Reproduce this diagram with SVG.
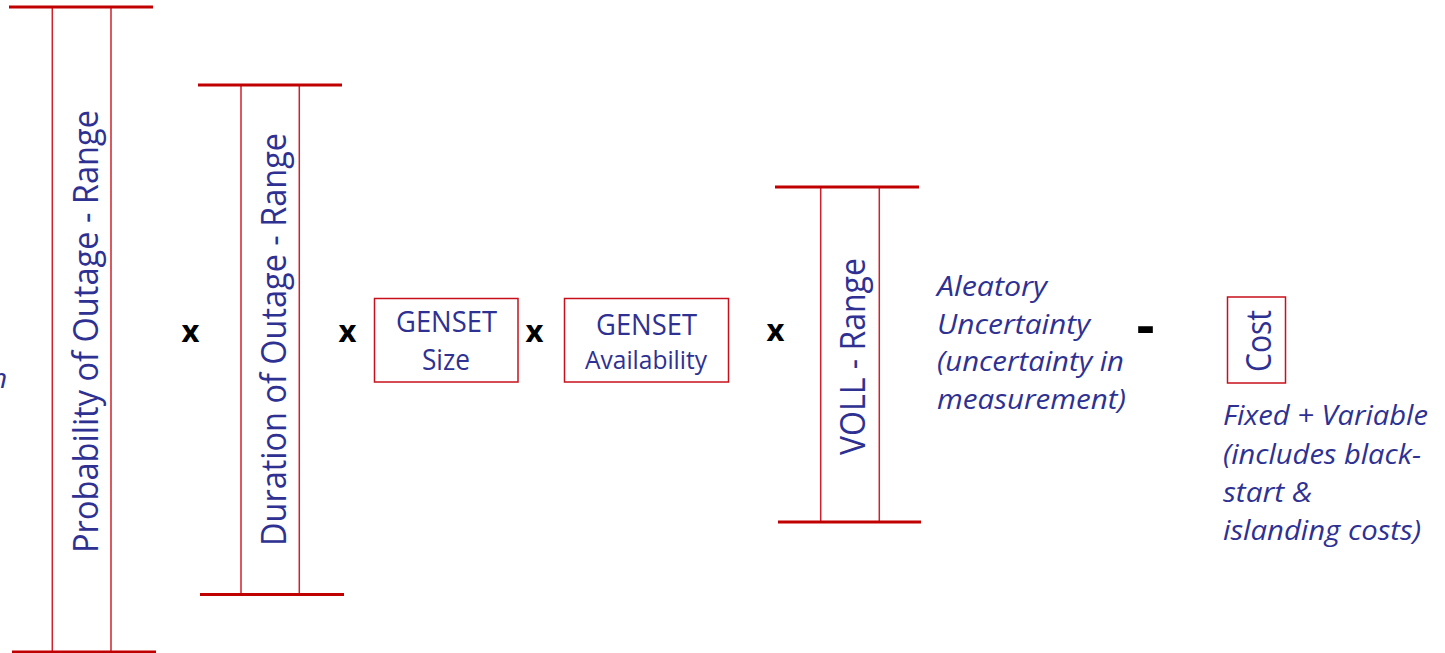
<svg xmlns="http://www.w3.org/2000/svg" width="1445" height="653" viewBox="0 0 1445 653">
  <style>
    .cap { stroke: #C00000; stroke-width: 3; fill: none; }
    .rail { stroke: #D0202A; stroke-width: 1.5; fill: none; }
    .box { stroke: #C8101C; stroke-width: 1.5; fill: #ffffff; }
    .lbl { font-family: "Open Sans", "Liberation Sans", sans-serif; fill: #2E3192; }
    .big { font-size: 35px; }
    .mid { font-size: 28.5px; }
    .note { font-family: "Open Sans", "Liberation Sans", sans-serif; font-style: italic; font-size: 28px; fill: #2E3192; }
    .op { font-family: "Open Sans", "Liberation Sans", sans-serif; font-weight: bold; fill: #000000; }
  </style>
  <rect width="1445" height="653" fill="#ffffff"/>

  <!-- range bar: probability of outage -->
  <g id="probability-range">
    <line class="rail" x1="52.3" y1="7" x2="52.3" y2="652"/>
    <line class="rail" x1="111" y1="7" x2="111" y2="652"/>
    <line class="cap" x1="9" y1="7" x2="153" y2="7"/>
    <line class="cap" x1="12" y1="652" x2="156" y2="652"/>
    <text class="lbl big" transform="translate(97.5,331.5) rotate(-90)" text-anchor="middle" textLength="443" lengthAdjust="spacingAndGlyphs">Probability of Outage - Range</text>
  </g>

  <!-- range bar: duration of outage -->
  <g id="duration-range">
    <line class="rail" x1="241" y1="85" x2="241" y2="594.5"/>
    <line class="rail" x1="299.3" y1="85" x2="299.3" y2="594.5"/>
    <line class="cap" x1="198" y1="85" x2="342" y2="85"/>
    <line class="cap" x1="200" y1="594.5" x2="344" y2="594.5"/>
    <text class="lbl big" transform="translate(286,339.5) rotate(-90)" text-anchor="middle" textLength="413" lengthAdjust="spacingAndGlyphs">Duration of Outage - Range</text>
  </g>

  <!-- genset size -->
  <g id="genset-size">
    <rect class="box" x="374.5" y="298.5" width="143.5" height="83.5"/>
    <text class="lbl mid" x="446.5" y="332" text-anchor="middle" textLength="101" lengthAdjust="spacingAndGlyphs">GENSET</text>
    <text class="lbl mid" x="446" y="370" text-anchor="middle" textLength="48" lengthAdjust="spacingAndGlyphs">Size</text>
  </g>

  <!-- genset availability -->
  <g id="genset-availability">
    <rect class="box" x="564.5" y="298.5" width="164" height="83.5"/>
    <text class="lbl mid" x="646.5" y="335" text-anchor="middle" textLength="101" lengthAdjust="spacingAndGlyphs">GENSET</text>
    <text class="lbl" font-size="25.5" x="646" y="369" text-anchor="middle" textLength="122" lengthAdjust="spacingAndGlyphs">Availability</text>
  </g>

  <!-- range bar: value of lost load -->
  <g id="voll-range">
    <line class="rail" x1="820.7" y1="187" x2="820.7" y2="522"/>
    <line class="rail" x1="879.3" y1="187" x2="879.3" y2="522"/>
    <line class="cap" x1="775" y1="187" x2="919" y2="187"/>
    <line class="cap" x1="778" y1="522" x2="921" y2="522"/>
    <text class="lbl big" transform="translate(864.5,356.5) rotate(-90)" text-anchor="middle" textLength="197" lengthAdjust="spacingAndGlyphs">VOLL - Range</text>
  </g>

  <!-- note on the VOLL range -->
  <g id="aleatory-note">
    <text class="note" x="937" y="296" textLength="110" lengthAdjust="spacingAndGlyphs">Aleatory</text>
    <text class="note" x="937" y="334" textLength="153" lengthAdjust="spacingAndGlyphs">Uncertainty</text>
    <text class="note" x="937" y="371" textLength="187" lengthAdjust="spacingAndGlyphs">(uncertainty in</text>
    <text class="note" x="937" y="409" textLength="189" lengthAdjust="spacingAndGlyphs">measurement)</text>
  </g>

  <!-- cost -->
  <g id="cost">
    <rect class="box" x="1227.5" y="297" width="58" height="86"/>
    <text class="lbl big" transform="translate(1270.5,341) rotate(-90)" text-anchor="middle" textLength="62" lengthAdjust="spacingAndGlyphs">Cost</text>
  </g>

  <!-- note on the cost -->
  <g id="cost-note">
    <text class="note" x="1223" y="425" textLength="205" lengthAdjust="spacingAndGlyphs">Fixed + Variable</text>
    <text class="note" x="1223" y="464" textLength="198" lengthAdjust="spacingAndGlyphs">(includes black-</text>
    <text class="note" x="1223" y="502" textLength="89" lengthAdjust="spacingAndGlyphs">start &amp;</text>
    <text class="note" x="1223" y="540" textLength="198" lengthAdjust="spacingAndGlyphs">islanding costs)</text>
  </g>

  <!-- note running in from the left edge -->
  <g id="left-note">
    <text class="note" x="-9" y="388">n</text>
  </g>

  <!-- operators between the factors -->
  <g id="operators">
    <text class="op" font-size="31" x="190.5" y="342" text-anchor="middle">x</text>
    <text class="op" font-size="31" x="347.5" y="342" text-anchor="middle">x</text>
    <text class="op" font-size="31" x="534.5" y="342" text-anchor="middle">x</text>
    <text class="op" font-size="31" x="775.5" y="341" text-anchor="middle">x</text>
    <text class="op" font-size="56" x="1145.5" y="345" text-anchor="middle">-</text>
  </g>
</svg>
